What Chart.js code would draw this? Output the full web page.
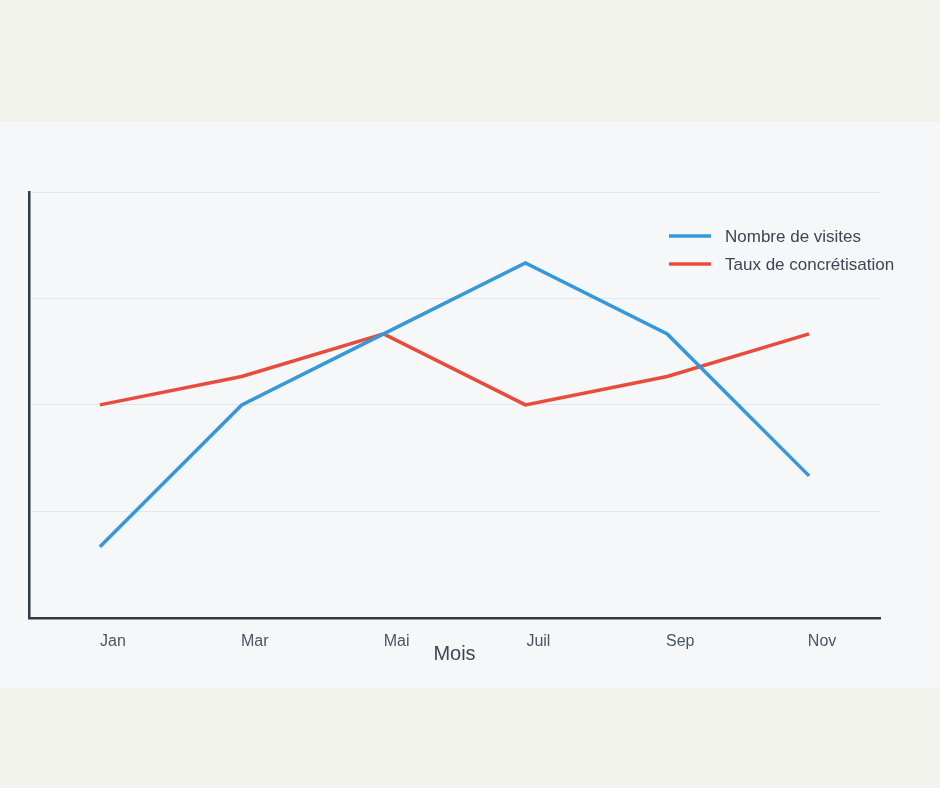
<!DOCTYPE html>
<html>
<head>
<meta charset="utf-8">
<script src="https://cdn.jsdelivr.net/npm/chart.js@4"></script>
<style>
  html, body { margin: 0; padding: 0; background: #f3f3ee; }
  #panel { position: absolute; left: 0; top: 122px; width: 940px; height: 566px; background: #f5f7f9; }
</style>
</head>
<body>
<div id="panel"><canvas id="myChart" width="940" height="566"></canvas></div>
<script>
const months = ["Jan", "Mar", "Mai", "Juil", "Sep", "Nov"];
const visites = [10, 30, 40, 50, 40, 20];
const concretisation = [30, 34, 40, 30, 34, 40];
const seriesNames = ["Nombre de visites", "Taux de concrétisation"];
const yTicks = [0, 15, 30, 45, 60];

const fontFamily = "'Liberation Sans', Arial, sans-serif";

// legend drawn inside the plot area, top right
const insideLegend = {
  id: "insideLegend",
  afterDraw(chart) {
    const { ctx, chartArea } = chart;
    ctx.save();
    chart.data.datasets.forEach((ds, i) => {
      const y = chartArea.top + 44 + i * 28;
      const x = chartArea.right - 211;
      ctx.strokeStyle = ds.borderColor;
      ctx.lineWidth = 3.5;
      ctx.beginPath();
      ctx.moveTo(x, y);
      ctx.lineTo(x + 42, y);
      ctx.stroke();
      ctx.fillStyle = "#3c4654";
      ctx.font = "17px " + fontFamily;
      ctx.textBaseline = "middle";
      ctx.fillText(ds.label, x + 56, y + 1);
    });
    ctx.restore();
  },
};

const ctx = document.getElementById("myChart");
new Chart(ctx, {
  type: "line",
  data: {
    labels: months,
    datasets: [
      {
        label: seriesNames[0],
        data: visites,
        borderColor: "#3498db",
        borderWidth: 3.5,
        pointRadius: 0,
        tension: 0,
      },
      {
        label: seriesNames[1],
        data: concretisation,
        borderColor: "#e74c3c",
        borderWidth: 3.5,
        pointRadius: 0,
        tension: 0,
      },
    ],
  },
  plugins: [insideLegend],
  options: {
    responsive: false,
    animation: false,
    maintainAspectRatio: false,
    layout: { padding: { left: 29, right: 60, top: 70, bottom: 22 } },
    plugins: {
      legend: { display: false },
      tooltip: { enabled: false },
    },
    scales: {
      x: {
        offset: true,
        grid: { display: false, drawTicks: false },
        border: { display: true, color: "#2f3b48", width: 2.5 },
        ticks: {
          color: "#4a5562",
          font: { family: fontFamily, size: 16 },
          padding: 14,
          labelOffset: 13,
          maxRotation: 0,
        },
        title: {
          display: true,
          text: "Mois",
          color: "#3c4654",
          font: { family: fontFamily, size: 20 },
          padding: { top: -23, bottom: 0 },
        },
      },
      y: {
        min: yTicks[0],
        max: yTicks[yTicks.length - 1],
        afterBuildTicks: (axis) => {
          axis.ticks = yTicks.map((v) => ({ value: v }));
        },
        grid: { color: "#e3e6ea", lineWidth: 1, drawTicks: false },
        border: { display: true, color: "#2f3b48", width: 2.5 },
        ticks: { display: false },
      },
    },
  },
});
</script>
</body>
</html>
